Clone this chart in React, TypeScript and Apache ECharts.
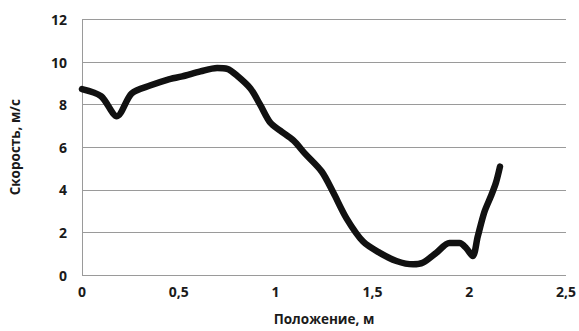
import React, { useEffect, useRef } from "react";
import * as echarts from "echarts";

const positions = [0, 0.098, 0.18, 0.257, 0.355, 0.44, 0.518, 0.612, 0.698, 0.75, 0.8, 0.87, 0.92, 0.972, 1.024, 1.092, 1.152, 1.238, 1.298, 1.367, 1.452, 1.538, 1.624, 1.71, 1.761, 1.83, 1.898, 1.95, 1.984, 2.018, 2.044, 2.078, 2.113, 2.138, 2.159];
const speeds = [8.73, 8.4, 7.46, 8.53, 8.91, 9.17, 9.33, 9.56, 9.72, 9.68, 9.37, 8.76, 8.0, 7.16, 6.78, 6.32, 5.7, 4.86, 3.87, 2.65, 1.57, 1.04, 0.66, 0.5, 0.58, 1.04, 1.5, 1.5, 1.27, 0.89, 1.8, 2.95, 3.72, 4.33, 5.09];

const xTitle = "Положение, м";
const yTitle = "Скорость, м/с";

export default function App() {
  const ref = useRef<HTMLDivElement>(null);
  useEffect(() => {
    if (!ref.current) return;
    const chart = echarts.init(ref.current, null, { renderer: "svg" });
    const font = "'Open Sans', 'DejaVu Sans', sans-serif";
    chart.setOption({
      animation: false,
      backgroundColor: "#ffffff",
      grid: { left: 81, right: 12, top: 19.5, bottom: 50, containLabel: false },
      xAxis: {
        type: "value",
        min: 0,
        max: 2.5,
        interval: 0.5,
        axisLine: { show: false },
        axisTick: { show: false },
        splitLine: { show: false },
        axisLabel: {
          color: "#1a1a1a",
          fontFamily: font,
          fontWeight: "bold",
          fontSize: 14,
          margin: 9,
          formatter: (v: number) => String(v).replace(".", ","),
        },
        name: xTitle,
        nameLocation: "middle",
        nameGap: 37,
        nameTextStyle: { color: "#1a1a1a", fontFamily: font, fontWeight: "bold", fontSize: 13.5 },
      },
      yAxis: {
        type: "value",
        min: 0,
        max: 12,
        interval: 2,
        axisLine: { show: true, lineStyle: { color: "#9a9a9a", width: 1 } },
        axisTick: { show: false },
        splitLine: { show: true, lineStyle: { color: "#9a9a9a", width: 1 } },
        axisLabel: {
          color: "#1a1a1a",
          fontFamily: font,
          fontWeight: "bold",
          fontSize: 14,
          margin: 15,
        },
        name: yTitle,
        nameLocation: "middle",
        nameGap: 60,
        nameRotate: 90,
        nameTextStyle: { color: "#1a1a1a", fontFamily: font, fontWeight: "bold", fontSize: 13.5 },
      },
      series: [
        {
          type: "line",
          data: positions.map((x, i) => [x, speeds[i]]),
          smooth: 0.3,
          showSymbol: false,
          lineStyle: { color: "#111111", width: 6.5, cap: "round", join: "round" },
        },
      ],
    });
    return () => chart.dispose();
  }, []);
  return <div ref={ref} style={{ width: 579, height: 331, position: "absolute", left: 0, top: 0 }} />;
}
